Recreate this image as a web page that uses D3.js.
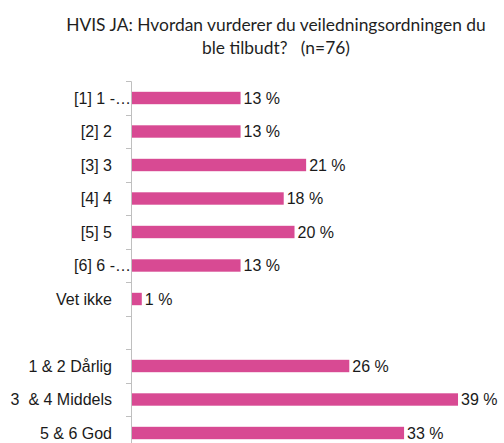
<!DOCTYPE html>
<html>
<head>
<meta charset="utf-8">
<script src="https://cdn.jsdelivr.net/npm/d3@7"></script>
<style>
  body { margin: 0; background: #fff; }
  svg { display: block; }
  text { white-space: pre; }
</style>
</head>
<body>
<script>
// rows, top to bottom (blank row separates the single answers from the groups)
var categories = ["[1] 1 -…", "[2] 2", "[3] 3", "[4] 4", "[5] 5", "[6] 6 -…", "Vet ikke", " ",
                  "1 & 2 Dårlig", "3  & 4 Middels", "5 & 6 God"];
// percent of respondents (n=76)
var values = [13.2, 13.2, 21.1, 18.4, 19.7, 13.2, 1.3, null, 26.3, 39.4, 32.9];
var titleLines = ["HVIS JA: Hvordan vurderer du veiledningsordningen du", "ble tilbudt?   (n=76)"];

var width = 504, height = 443;
var axisX = 131;

var svg = d3.select("body").append("svg")
    .attr("width", width)
    .attr("height", height);

var rows = categories.map(function(c, i){ return {cat: c, value: values[i]}; });

var x = d3.scaleLinear()
    .domain([0, 40])
    .range([axisX, axisX + 332]);

var y = d3.scaleBand()
    .domain(categories)
    .range([81.25, 81.25 + 33.5 * categories.length])
    .paddingInner(0.63)
    .paddingOuter(0.315);

// title
svg.append("g").selectAll("text")
    .data(titleLines)
    .enter().append("text")
    .attr("x", 276)
    .attr("y", function(d, i){ return 31 + i * 23; })
    .attr("text-anchor", "middle")
    .style("font-family", "Lato, 'Open Sans', sans-serif")
    .style("font-size", "17.4px")
    .attr("fill", "#1f1f1f")
    .text(function(d){ return d; });

// axis line + ticks on band edges
var step = y.step();
var top0 = y(categories[0]) - step * y.paddingOuter();
var axis = svg.append("g").attr("stroke", "#bfbfbf").attr("stroke-width", 1);
axis.append("line")
    .attr("x1", axisX + 0.5).attr("x2", axisX + 0.5)
    .attr("y1", top0).attr("y2", height);
axis.selectAll(".tick")
    .data(d3.range(categories.length + 1))
    .enter().append("line")
    .attr("x1", axisX - 5).attr("x2", axisX)
    .attr("y1", function(i){ return Math.round(top0 + i * step) + 0.5; })
    .attr("y2", function(i){ return Math.round(top0 + i * step) + 0.5; });

// bars
var data = rows.filter(function(d){ return d.value != null; });
svg.append("g").selectAll("rect")
    .data(data)
    .enter().append("rect")
    .attr("x", x(0) + 1)
    .attr("y", function(d){ return y(d.cat); })
    .attr("width", function(d){ return x(d.value) - x(0) - 1; })
    .attr("height", y.bandwidth())
    .attr("fill", "#d84a93");

// value labels
svg.append("g").selectAll("text")
    .data(data)
    .enter().append("text")
    .attr("x", function(d){ return x(d.value) + 3; })
    .attr("y", function(d){ return y(d.cat) + y.bandwidth() / 2; })
    .attr("dy", "0.36em")
    .style("font-family", "Arial, 'Liberation Sans', sans-serif")
    .style("font-size", "16px")
    .attr("fill", "#1a1a1a")
    .text(function(d){ return Math.round(d.value) + " %"; });

// category labels
svg.append("g").selectAll("text")
    .data(rows)
    .enter().append("text")
    .attr("x", function(d){ return /…$/.test(d.cat) ? axisX : 112; })
    .attr("y", function(d){ return y(d.cat) + y.bandwidth() / 2; })
    .attr("dy", "0.36em")
    .attr("text-anchor", "end")
    .style("font-family", "Arial, 'Liberation Sans', sans-serif")
    .style("font-size", "16px")
    .attr("fill", "#1a1a1a")
    .text(function(d){ return d.cat; });
</script>
</body>
</html>
